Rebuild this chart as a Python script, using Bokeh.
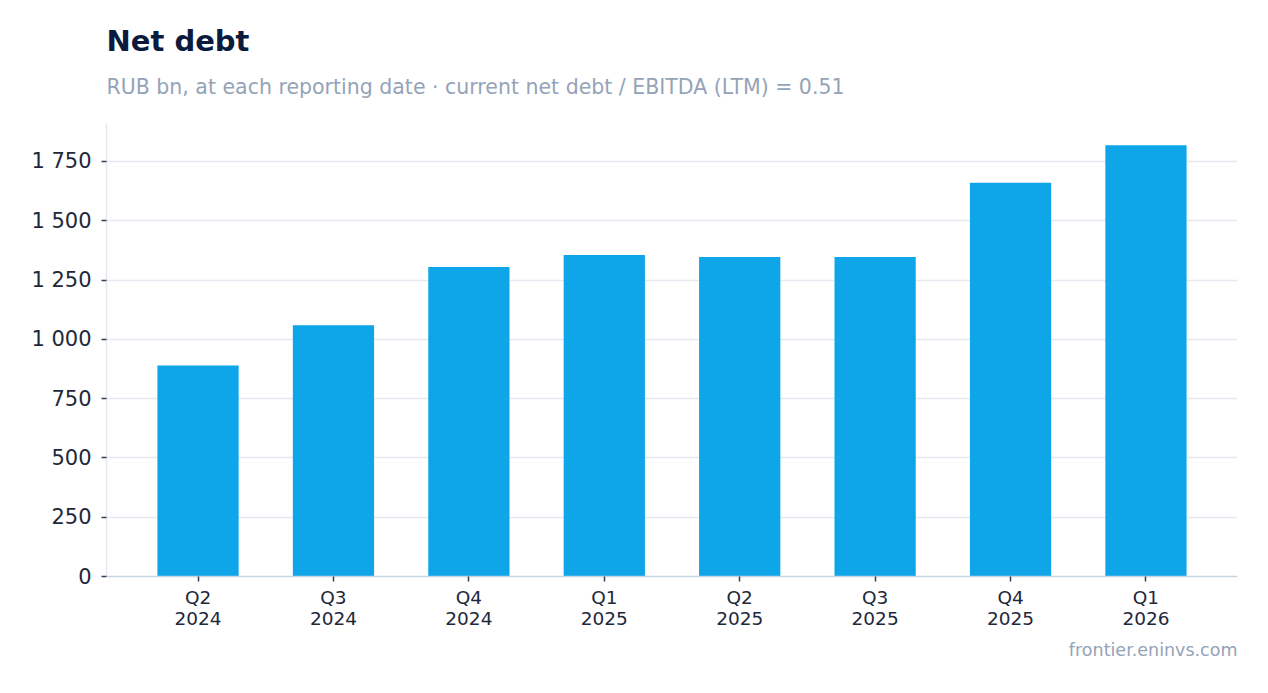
from bokeh.plotting import figure
from bokeh.layouts import column
from bokeh.models import FactorRange, Range1d, FixedTicker, Title, Label, ColumnDataSource
from bokeh.embed import file_html
from bokeh.resources import INLINE

# ---- data ----
quarters = ["Q2\n2024", "Q3\n2024", "Q4\n2024", "Q1\n2025",
            "Q2\n2025", "Q3\n2025", "Q4\n2025", "Q1\n2026"]
net_debt = [890, 1059, 1305, 1356, 1347, 1347, 1660, 1818]
y_ticks = [0, 250, 500, 750, 1000, 1250, 1500, 1750]
y_tick_labels = ["0", "250", "500", "750", "1 000", "1 250", "1 500", "1 750"]

title_text = "Net debt"
subtitle_text = "RUB bn, at each reporting date · current net debt / EBITDA (LTM) = 0.51"
footer_text = "frontier.eninvs.com"

FONT = "DejaVu Sans"
BAR = "#0ea5e9"
W, HEAD_H, MAIN_H = 1260, 115, 570

# ---- header (title + subtitle) ----
head = figure(width=W, height=HEAD_H, x_range=Range1d(0, W), y_range=Range1d(HEAD_H, 0),
              output_backend="svg", toolbar_location=None, tools="",
              x_axis_location=None, y_axis_location=None,
              min_border=0, min_border_left=0, min_border_right=0,
              min_border_top=0, min_border_bottom=0)
head.outline_line_color = None
head.grid.visible = False
head.add_layout(Label(x=0, y=40.7, text=title_text, text_font=FONT,
                      text_font_size="29px", text_font_style="bold",
                      text_color="#0b1a3d", text_baseline="alphabetic",
                      text_align="left"))
head.add_layout(Label(x=0, y=86.2, text=subtitle_text, text_font=FONT,
                      text_font_size="20.5px", text_color="#94a3b8",
                      text_baseline="alphabetic", text_align="left"))

# ---- main chart ----
source = ColumnDataSource(dict(q=quarters, v=net_debt))

p = figure(
    width=W, height=MAIN_H,
    x_range=FactorRange(factors=quarters, range_padding=0.176,
                        range_padding_units="absolute"),
    y_range=Range1d(0, 1910),
    output_backend="svg", toolbar_location=None, tools="",
    min_border_left=106, min_border_right=23, min_border_top=8,
    min_border_bottom=109,
)
p.outline_line_color = None
p.background_fill_color = "white"
p.border_fill_color = "white"

p.vbar(x="q", top="v", width=0.6, source=source, color=BAR, line_color=None)

# grid
p.xgrid.grid_line_color = None
p.ygrid.grid_line_color = "#e5e9f0"
p.ygrid.grid_line_width = 1.5
p.ygrid.ticker = FixedTicker(ticks=y_ticks)

# y axis
p.yaxis.ticker = FixedTicker(ticks=y_ticks)
p.yaxis.major_label_overrides = {t: l for t, l in zip(y_ticks, y_tick_labels)}
p.yaxis.axis_line_color = "#e2e8f0"
p.yaxis.axis_line_width = 1.5
p.yaxis.major_tick_line_color = "#334155"
p.yaxis.major_tick_line_width = 1.5
p.yaxis.major_tick_out = 5
p.yaxis.major_tick_in = 0
p.yaxis.minor_tick_line_color = None
p.yaxis.major_label_standoff = 10
p.yaxis.major_label_text_font = FONT
p.yaxis.major_label_text_font_size = "21px"
p.yaxis.major_label_text_color = "#1e293b"

# x axis
p.xaxis.axis_line_color = "#cbd5e1"
p.xaxis.axis_line_width = 1.5
p.xaxis.major_tick_line_color = "#334155"
p.xaxis.major_tick_line_width = 1.5
p.xaxis.major_tick_out = 5
p.xaxis.major_tick_in = 0
p.xaxis.minor_tick_line_color = None
p.xaxis.major_label_standoff = 5
p.xaxis.major_label_text_font = FONT
p.xaxis.major_label_text_font_size = "18.5px"
p.xaxis.major_label_text_line_height = 1.0
p.xaxis.major_label_text_color = "#1e293b"

# footer
p.add_layout(Title(text=footer_text, text_font=FONT, text_font_size="17.5px",
                   text_font_style="normal", text_color="#94a3b8",
                   align="right", standoff=13), "below")

layout = column(head, p, spacing=0)
open("out.html", "w").write(file_html(layout, INLINE))
